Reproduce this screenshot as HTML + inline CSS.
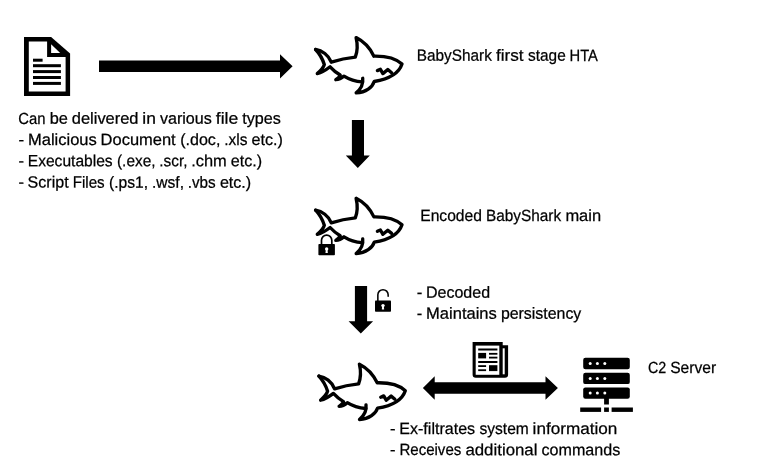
<!DOCTYPE html>
<html lang="en"><head><meta charset="utf-8"><title>BabyShark infection chain</title>
<style>html,body{margin:0;padding:0;background:#fff;}body{width:770px;height:469px;overflow:hidden;}svg{display:block;filter:grayscale(1);}text{font-family:"Liberation Sans",sans-serif;font-size:16.2px;fill:#000;stroke:#000;stroke-width:0.25px;}</style></head><body>
<svg width="770" height="469" viewBox="0 0 770 469">
<rect width="770" height="469" fill="#fff"/>
<g id="doc">
<path d="M24 37 H51.1 L70.1 53.6 V95.9 H24 Z" fill="#000"/>
<path d="M28.8 41.5 H47.1 V56.9 H65.6 V91.5 H28.8 Z" fill="#fff"/>
<path d="M51.1 44.3 V52.9 H60.2 Z" fill="#fff"/>
<rect x="33" y="58.7" width="9.6" height="3.0" fill="#000"/>
<rect x="33" y="64.2" width="27.9" height="3.0" fill="#000"/>
<rect x="33" y="70.1" width="27.9" height="3.0" fill="#000"/>
<rect x="33" y="76.0" width="27.9" height="3.0" fill="#000"/>
<rect x="33" y="81.9" width="27.9" height="3.0" fill="#000"/>
</g>
<path d="M99 60.4 H280 V54.3 L292.6 66.3 L280 78.6 V72.1 H99 Z" fill="#000"/>
<path d="M351.9 120.1 H364 V155.5 H369.8 L357.8 167.9 L345.8 155.5 H351.9 Z" fill="#000"/>
<path d="M354.9 286.1 H367.1 V321.2 H373.1 L360.8 333.5 L348.6 321.2 H354.9 Z" fill="#000"/>
<path d="M422.9 388 L434.7 376.3 V382.3 H545.5 V376.3 L557.9 388 L545.5 399.7 V393.7 H434.7 V399.7 Z" fill="#000"/>
<g id="shark1">
<g fill="none" stroke="#000" stroke-width="3.35" stroke-linecap="round" stroke-linejoin="round">
<path d="M315.6 49.5 C322 50.5 328.6 55 331.3 62.2 C338 60 347 58 355.3 57.2 C357.3 52 357.6 44 356.1 37.6 C363 41 370 48 373.9 56.2 C384 56 395.6 58.2 402 64.1 C399.8 70.8 392.2 78.6 374.2 81.5 C372.6 87 366 92.3 356.2 92.9 C361.4 88.6 363.4 84 362.7 78.3"/>
<path d="M362.5 81.9 C355 81.4 349 79.3 344 76.1 C341.5 78.3 338.6 79.6 335.8 79.7 C338 78.3 339.5 76.8 340.2 75 C336 72.6 333 70 330.1 66.8 C326 70 321.8 72.6 317.3 73.6 C320.6 70.6 323.6 67.5 324.3 64.6 C322.6 59 319.8 54 315.6 49.5"/>
<path d="M377.4 70.6 L380.4 69.3 L382.9 73.6 L387.8 69.5 L391.6 72.7"/>
</g>
</g>
<g id="shark2" transform="translate(0 160.7)">
<g fill="none" stroke="#000" stroke-width="3.35" stroke-linecap="round" stroke-linejoin="round">
<path d="M315.6 49.5 C322 50.5 328.6 55 331.3 62.2 C338 60 347 58 355.3 57.2 C357.3 52 357.6 44 356.1 37.6 C363 41 370 48 373.9 56.2 C384 56 395.6 58.2 402 64.1 C399.8 70.8 392.2 78.6 374.2 81.5 C372.6 87 366 92.3 356.2 92.9 C361.4 88.6 363.4 84 362.7 78.3"/>
<path d="M362.5 81.9 C355 81.4 349 79.3 344 76.1 C341.5 78.3 338.6 79.6 335.8 79.7 C338 78.3 339.5 76.8 340.2 75 C336 72.6 333 70 330.1 66.8 C326 70 321.8 72.6 317.3 73.6 C320.6 70.6 323.6 67.5 324.3 64.6 C322.6 59 319.8 54 315.6 49.5"/>
<path d="M377.4 70.6 L380.4 69.3 L382.9 73.6 L387.8 69.5 L391.6 72.7"/>
</g>
</g>
<g id="shark3" transform="translate(3.3 326.6)">
<g fill="none" stroke="#000" stroke-width="3.35" stroke-linecap="round" stroke-linejoin="round">
<path d="M315.6 49.5 C322 50.5 328.6 55 331.3 62.2 C338 60 347 58 355.3 57.2 C357.3 52 357.6 44 356.1 37.6 C363 41 370 48 373.9 56.2 C384 56 395.6 58.2 402 64.1 C399.8 70.8 392.2 78.6 374.2 81.5 C372.6 87 366 92.3 356.2 92.9 C361.4 88.6 363.4 84 362.7 78.3"/>
<path d="M362.5 81.9 C355 81.4 349 79.3 344 76.1 C341.5 78.3 338.6 79.6 335.8 79.7 C338 78.3 339.5 76.8 340.2 75 C336 72.6 333 70 330.1 66.8 C326 70 321.8 72.6 317.3 73.6 C320.6 70.6 323.6 67.5 324.3 64.6 C322.6 59 319.8 54 315.6 49.5"/>
<path d="M377.4 70.6 L380.4 69.3 L382.9 73.6 L387.8 69.5 L391.6 72.7"/>
</g>
</g>
<g transform="translate(318.40 244.00)"><rect x="0" y="0" width="16.5" height="11.2" rx="0.8" fill="#000"/><path d="M3.10 0.5 V-3.7 A5.15 5.15 0 0 1 13.40 -3.7 V0.5" fill="none" stroke="#000" stroke-width="1.7"/><circle cx="8.25" cy="5.0" r="1.7" fill="#fff"/><path d="M7.45 5.5 h1.6 l0.4 3.4 h-2.4 z" fill="#fff"/></g>
<g transform="translate(375.00 300.60)"><rect x="0" y="0" width="16.0" height="11.2" rx="0.8" fill="#000"/><path d="M2.85 0.5 V-5.8 A5.15 5.15 0 0 1 13.15 -5.8 V-4.3" fill="none" stroke="#000" stroke-width="1.55" stroke-linecap="round"/><circle cx="8.0" cy="5.0" r="1.7" fill="#fff"/><path d="M7.2 5.5 h1.6 l0.4 3.4 h-2.4 z" fill="#fff"/></g>
<g id="news">
<path d="M472.6 342.1 H502.7 V345.3 H508.1 V374.5 a3.2 3.2 0 0 1 -3.2 3.2 H475.8 a3.2 3.2 0 0 1 -3.2 -3.2 Z" fill="#000"/>
<rect x="475.7" y="345.6" width="23.6" height="29.2" fill="#fff"/>
<rect x="502.7" y="348.3" width="2.0" height="26" fill="#fff"/>
<rect x="478.2" y="348.5" width="19.2" height="2.0" fill="#000"/>
<rect x="478.2" y="352.9" width="7.9" height="5.5" fill="#000"/>
<rect x="489" y="352.9" width="8.4" height="1.8" fill="#000"/>
<rect x="489" y="356.7" width="8.4" height="1.8" fill="#000"/>
<rect x="478.2" y="361" width="19.2" height="2.0" fill="#000"/>
<rect x="489" y="365.2" width="8.4" height="5.9" fill="#000"/>
<rect x="478.2" y="365.2" width="7.9" height="1.8" fill="#000"/>
<rect x="478.2" y="369.3" width="7.9" height="1.8" fill="#000"/>
</g>
<g id="server"><rect x="583.2" y="357.8" width="46.6" height="11.4" rx="2.2" fill="#000"/><circle cx="590.2" cy="363.50" r="1.5" fill="#fff"/><circle cx="597.4" cy="363.50" r="1.5" fill="#fff"/><circle cx="604.8" cy="363.50" r="1.5" fill="#fff"/><rect x="583.2" y="372.7" width="46.6" height="11.4" rx="2.2" fill="#000"/><circle cx="590.2" cy="378.40" r="1.5" fill="#fff"/><circle cx="597.4" cy="378.40" r="1.5" fill="#fff"/><circle cx="604.8" cy="378.40" r="1.5" fill="#fff"/><rect x="583.2" y="387.4" width="46.6" height="11.4" rx="2.2" fill="#000"/><circle cx="590.2" cy="393.10" r="1.5" fill="#fff"/><circle cx="597.4" cy="393.10" r="1.5" fill="#fff"/><circle cx="604.8" cy="393.10" r="1.5" fill="#fff"/><rect x="604.1" y="398" width="4.8" height="6.5" fill="#000"/><rect x="580.2" y="407.5" width="20.9" height="4.4" fill="#000"/><rect x="604.1" y="407.5" width="4.8" height="4.4" fill="#000"/><rect x="611.6" y="407.5" width="21.3" height="4.4" fill="#000"/></g>
<text transform="rotate(0.03 18.3 123.7)" x="18.3" y="123.7"><tspan x="18.3" textLength="27.2" lengthAdjust="spacingAndGlyphs">Can</tspan> <tspan x="49.7" textLength="18.2" lengthAdjust="spacingAndGlyphs">be</tspan> <tspan x="71.8" textLength="66.7" lengthAdjust="spacingAndGlyphs">delivered</tspan> <tspan x="142.3" textLength="13.6" lengthAdjust="spacingAndGlyphs">in</tspan> <tspan x="159.9" textLength="51.9" lengthAdjust="spacingAndGlyphs">various</tspan> <tspan x="215.8" textLength="22.4" lengthAdjust="spacingAndGlyphs">file</tspan> <tspan x="242.3" textLength="38.6" lengthAdjust="spacingAndGlyphs">types</tspan></text>
<text transform="rotate(0.03 18.5 144.9)" x="18.5" y="144.9"><tspan x="18.5" textLength="5.6" lengthAdjust="spacingAndGlyphs">-</tspan> <tspan x="28.0" textLength="68.8" lengthAdjust="spacingAndGlyphs">Malicious</tspan> <tspan x="100.6" textLength="75.1" lengthAdjust="spacingAndGlyphs">Document</tspan> <tspan x="180.2" textLength="40.2" lengthAdjust="spacingAndGlyphs">(.doc,</tspan> <tspan x="224.2" textLength="23.2" lengthAdjust="spacingAndGlyphs">.xls</tspan> <tspan x="251.5" textLength="31.3" lengthAdjust="spacingAndGlyphs">etc.)</tspan></text>
<text transform="rotate(0.03 18.5 166.2)" x="18.5" y="166.2"><tspan x="18.5" textLength="5.5" lengthAdjust="spacingAndGlyphs">-</tspan> <tspan x="27.8" textLength="84.8" lengthAdjust="spacingAndGlyphs">Executables</tspan> <tspan x="117.0" textLength="38.5" lengthAdjust="spacingAndGlyphs">(.exe,</tspan> <tspan x="159.3" textLength="28.1" lengthAdjust="spacingAndGlyphs">.scr,</tspan> <tspan x="191.2" textLength="35.6" lengthAdjust="spacingAndGlyphs">.chm</tspan> <tspan x="230.8" textLength="31.3" lengthAdjust="spacingAndGlyphs">etc.)</tspan></text>
<text transform="rotate(0.03 18.5 187.6)" x="18.5" y="187.6"><tspan x="18.5" textLength="5.5" lengthAdjust="spacingAndGlyphs">-</tspan> <tspan x="27.6" textLength="41.0" lengthAdjust="spacingAndGlyphs">Script</tspan> <tspan x="72.7" textLength="31.9" lengthAdjust="spacingAndGlyphs">Files</tspan> <tspan x="109.1" textLength="39.0" lengthAdjust="spacingAndGlyphs">(.ps1,</tspan> <tspan x="152.0" textLength="32.0" lengthAdjust="spacingAndGlyphs">.wsf,</tspan> <tspan x="187.8" textLength="27.9" lengthAdjust="spacingAndGlyphs">.vbs</tspan> <tspan x="219.9" textLength="31.3" lengthAdjust="spacingAndGlyphs">etc.)</tspan></text>
<text transform="rotate(0.03 416.8 60.8)" x="416.8" y="60.8"><tspan x="416.8" textLength="75.0" lengthAdjust="spacingAndGlyphs">BabyShark</tspan> <tspan x="496.0" textLength="27.6" lengthAdjust="spacingAndGlyphs">first</tspan> <tspan x="528.1" textLength="37.6" lengthAdjust="spacingAndGlyphs">stage</tspan> <tspan x="569.5" textLength="28.4" lengthAdjust="spacingAndGlyphs">HTA</tspan></text>
<text transform="rotate(0.03 420.2 221.0)" x="420.2" y="221.0"><tspan x="420.2" textLength="61.8" lengthAdjust="spacingAndGlyphs">Encoded</tspan> <tspan x="486.0" textLength="75.1" lengthAdjust="spacingAndGlyphs">BabyShark</tspan> <tspan x="565.4" textLength="35.7" lengthAdjust="spacingAndGlyphs">main</tspan></text>
<text transform="rotate(0.03 416.7 297.7)" x="416.7" y="297.7"><tspan x="416.7" textLength="5.6" lengthAdjust="spacingAndGlyphs">-</tspan> <tspan x="426.0" textLength="64.1" lengthAdjust="spacingAndGlyphs">Decoded</tspan></text>
<text transform="rotate(0.03 416.7 318.8)" x="416.7" y="318.8"><tspan x="416.7" textLength="5.5" lengthAdjust="spacingAndGlyphs">-</tspan> <tspan x="426.1" textLength="70.7" lengthAdjust="spacingAndGlyphs">Maintains</tspan> <tspan x="500.9" textLength="80.4" lengthAdjust="spacingAndGlyphs">persistency</tspan></text>
<text transform="rotate(0.03 648.0 373.0)" x="648.0" y="373.0"><tspan x="648.0" textLength="18.3" lengthAdjust="spacingAndGlyphs">C2</tspan> <tspan x="670.2" textLength="45.9" lengthAdjust="spacingAndGlyphs">Server</tspan></text>
<text transform="rotate(0.03 390.1 434.0)" x="390.1" y="434.0"><tspan x="390.1" textLength="5.5" lengthAdjust="spacingAndGlyphs">-</tspan> <tspan x="399.3" textLength="75.8" lengthAdjust="spacingAndGlyphs">Ex-filtrates</tspan> <tspan x="479.5" textLength="49.3" lengthAdjust="spacingAndGlyphs">system</tspan> <tspan x="532.6" textLength="84.7" lengthAdjust="spacingAndGlyphs">information</tspan></text>
<text transform="rotate(0.03 390.1 455.1)" x="390.1" y="455.1"><tspan x="390.1" textLength="5.5" lengthAdjust="spacingAndGlyphs">-</tspan> <tspan x="399.4" textLength="61.9" lengthAdjust="spacingAndGlyphs">Receives</tspan> <tspan x="465.4" textLength="72.1" lengthAdjust="spacingAndGlyphs">additional</tspan> <tspan x="541.5" textLength="78.7" lengthAdjust="spacingAndGlyphs">commands</tspan></text>
</svg></body></html>
